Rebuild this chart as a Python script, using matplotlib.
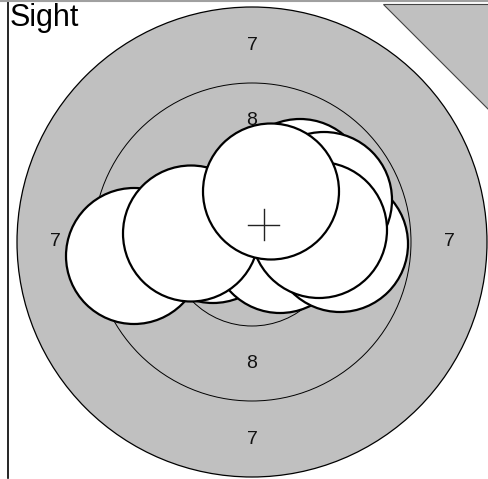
import matplotlib
matplotlib.use("Agg")
import matplotlib.pyplot as plt
from matplotlib.patches import Circle, Polygon
import numpy as np

# Target rings (radius, score label) in pixel-like units, target centre at origin
ring_radii = [235, 159, 84]
ring_scores = [7, 8, 9]

# Shot holes: offsets from target centre (x right, y up), drawn in this order
hole_x = [-118, -39, 28, 88, 48, 72, 67, -61, 19]
hole_y = [-14, 7, -3, -2, 55, 42, 12, 8.5, 50.5]
hole_r = 68

title = "Sight"
gray = "#c0c0c0"

fig = plt.figure(figsize=(4.89, 4.79), dpi=100)
ax = fig.add_axes([0, 0, 1, 1])
ax.set_xlim(-252, 237)
ax.set_ylim(-237, 242)
ax.set_aspect("equal")
ax.axis("off")

# rings
for r in ring_radii:
    ax.add_patch(Circle((0, 0), r, facecolor=gray if r == ring_radii[0] else "none",
                        edgecolor="black", lw=0.9 if r == ring_radii[0] else 0.7, zorder=1))

# ring labels (midway between ring lines)
for i in range(len(ring_radii) - 1):
    rm = (ring_radii[i] + ring_radii[i + 1]) / 2
    for (ux, uy) in [(0, 1), (0, -1), (-1, 0), (1, 0)]:
        ax.text(ux * rm, uy * rm, str(ring_scores[i]), ha="center", va="center",
                fontsize=14, family="Liberation Sans", color="#111111", zorder=2)

# holes
for k, (x, y) in enumerate(zip(hole_x, hole_y)):
    ax.add_patch(Circle((x, y), hole_r, facecolor="white", edgecolor="black",
                        lw=1.6, zorder=3 + k))

# mean point of impact cross
mx, my = np.mean(hole_x), np.mean(hole_y)
cs = 15.5
ax.plot([mx - cs, mx + cs], [my, my], color="#222222", lw=1.0, zorder=20)
ax.plot([mx, mx], [my - cs, my + cs], color="#222222", lw=1.0, zorder=20)

# corner triangle (top right)
ax.add_patch(Polygon([(131, 238), (237, 238), (237, 132)], closed=True,
                     facecolor=gray, edgecolor="#444444", lw=0.8, zorder=1))

# frame lines
ax.plot([-244, -244], [242, -236], color="black", lw=1.2, zorder=21)
ax.plot([-252, 237], [241.5, 241.5], color="#a0a0a0", lw=1.5, zorder=21)

fig.text(10 / 489, 1 - 3 / 479, title, ha="left", va="top", fontsize=22,
         family="Liberation Sans", color="black")

fig.savefig("out.png", dpi=100)
